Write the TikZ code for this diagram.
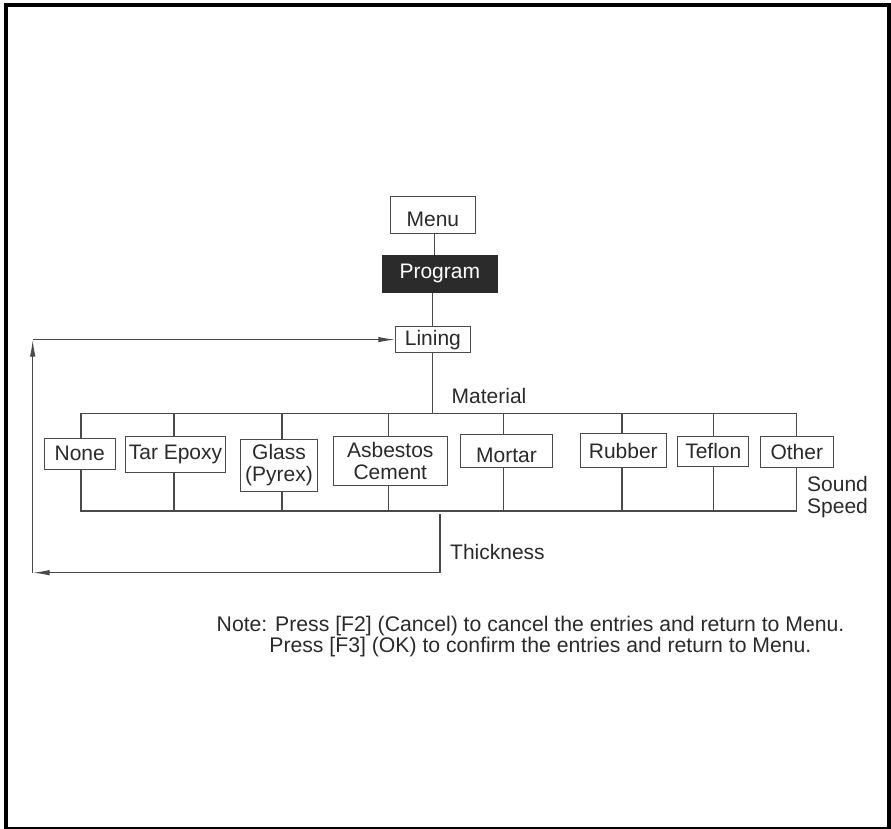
\documentclass[tikz,border=0pt]{standalone}
\usepackage{fontspec}
\setmainfont{Liberation Sans}
\usetikzlibrary{arrows.meta}
\definecolor{ln}{HTML}{4A4A4A}
\definecolor{tx}{HTML}{2A2A2A}
\definecolor{dark}{HTML}{2B2B2B}
\begin{document}
\begin{tikzpicture}[x=1pt,y=-1pt,
  every node/.style={text=tx, font=\fontsize{21}{21.4}\selectfont},
  box/.style 2 args={draw=ln, line width=1pt, fill=white, inner sep=0pt,
    minimum width=#1, minimum height=#2, align=center},
  lower/.style={text height=23pt, text depth=0pt},
  lbl/.style={inner sep=0pt, anchor=west},
  wire/.style={draw=ln, line width=1.2pt},
  arr/.style={-{Latex[length=17pt,width=5.5pt]}}]
\useasboundingbox (0,0) rectangle (891,829);
% frame
\draw[line width=4pt, black] (5.5,5.3) rectangle (889,828.5);

% top chain
\node[box={84.3pt}{37.3pt}, lower] (menu) at (432.9,214.7) {Menu};
\node[box={115pt}{37pt}, fill=dark, draw=dark, text=white] (program) at (439.8,273.8) {Program};
\node[box={74.3pt}{26.7pt}] (lining) at (432.9,339.6) {Lining};

% material boxes
\node[box={71.3pt}{31pt}]   (none)   at (79.7,453.8)  {None};
\node[box={100.4pt}{36pt}]  (tar)    at (175.5,454.3) {Tar Epoxy};
\node[box={76.6pt}{51.7pt}] (glass)  at (279,465.2)   {Glass\\(Pyrex)};
\node[box={114pt}{49pt}]    (asb)    at (390.3,460.8) {Asbestos\\Cement};
\node[box={92.4pt}{32.7pt}, lower] (mortar) at (506.5,451.3) {Mortar};
\node[box={86pt}{34.4pt}]   (rubber) at (623.3,450.5) {Rubber};
\node[box={71.3pt}{30pt}]   (teflon) at (713.3,451)   {Teflon};
\node[box={73pt}{31.3pt}]   (other)  at (796.8,451.7) {Other};

% labels
\node[lbl] (mat) at (451.5,396) {Material};
\node[lbl, align=left] (ss) at (807,497.1) {Sound\\Speed};
\node[lbl] (thk) at (450,551.7) {Thickness};
\node[lbl, align=left, font=\fontsize{21.2}{19}\selectfont] (note) at (216.5,636.3)
  {Note: Press [F2] (Cancel) to cancel the entries and return to Menu.\\
   \hspace*{52.7pt}Press [F3] (OK) to confirm the entries and return to Menu.};

% bus coordinates
\coordinate (lv)  at (432.7,413.3);
\coordinate (mbL) at (80,413.3);
\coordinate (mbR) at (796.7,413.3);
\coordinate (bbL) at (80,511);
\coordinate (bbR) at (796.7,511);
\coordinate (d1) at (81,413.3);
\coordinate (d2) at (174,413.3);
\coordinate (d3) at (282,413.3);
\coordinate (d4) at (388.3,413.3);
\coordinate (d5) at (503.7,413.3);
\coordinate (d6) at (622,413.3);
\coordinate (d7) at (713.3,413.3);
\coordinate (d8) at (796.7,413.3);

% top connectors
\draw[wire] (menu.south -| 434.3,0) -- (program.north -| 434.3,0);
\draw[wire] (program.south -| lv) -- (lining.north -| lv);
\draw[wire] (lining.south -| lv) -- (lv);
\draw[wire] (mbL) -- (mbR);
\draw[wire] (bbL) -- (bbR);

% drops
\foreach \d/\b in {d1/none,d2/tar,d3/glass,d4/asb,d5/mortar,d6/rubber,d7/teflon,d8/other}{
  \draw[wire] (\d) -- (\d |- \b.north);
  \draw[wire] (\b.south -| \d) -- (\d |- bbL);
}

% thickness loop
\coordinate (th)  at (440,514);
\coordinate (thb) at (440,572.7);
\coordinate (lc)  at (32.7,572.7);
\coordinate (tc)  at (32.7,339.6);
\draw[wire, arr] (th) -- (thb) -- (lc);
\draw[wire, arr] (lc) -- (tc);
\draw[wire, arr] (tc) -- (tc -| lining.west);
\end{tikzpicture}
\end{document}
